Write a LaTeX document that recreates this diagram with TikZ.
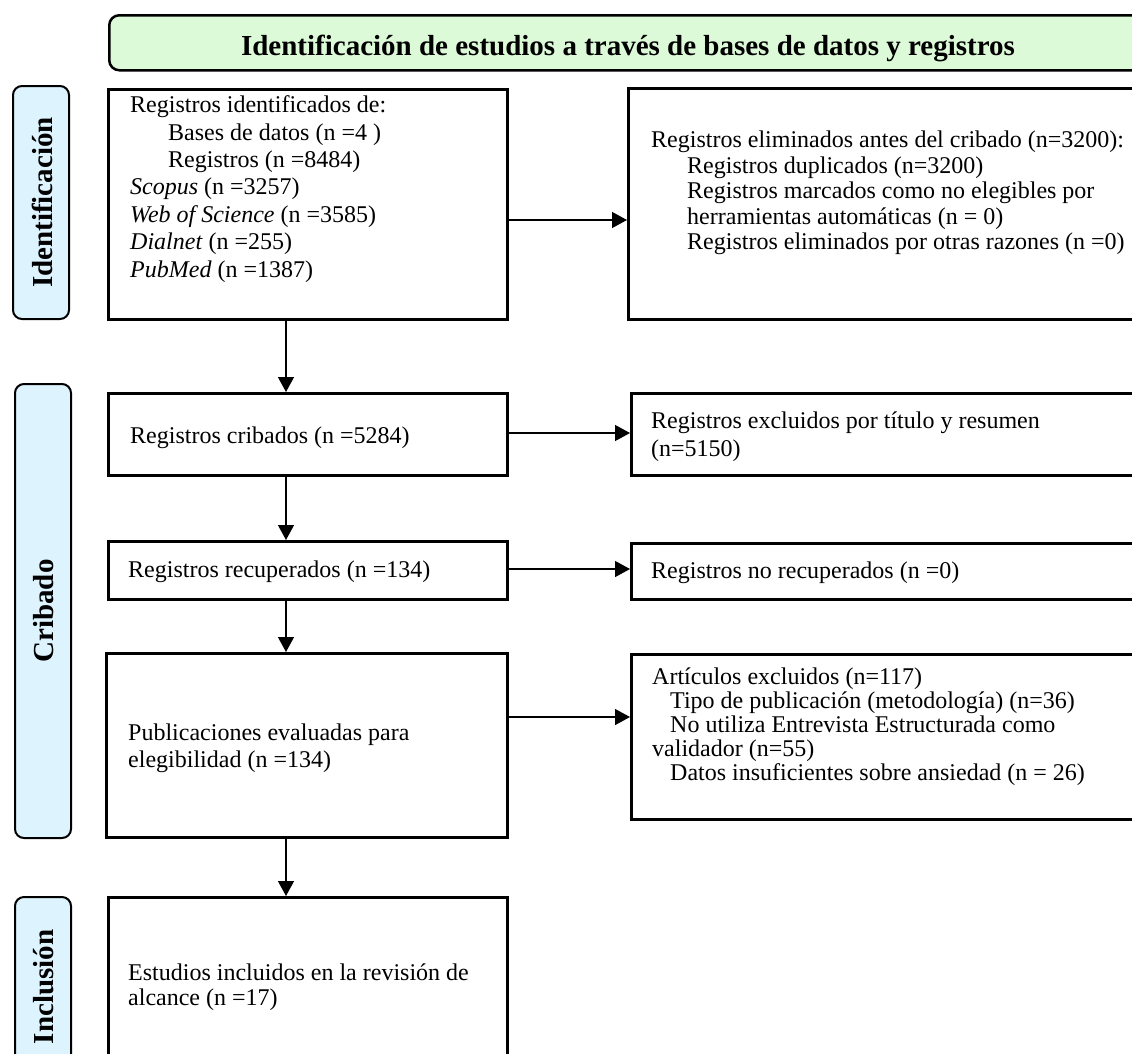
\documentclass[tikz,border=0pt]{standalone}
\usepackage{fontspec}
\setmainfont{Liberation Serif}
\usetikzlibrary{arrows.meta}
\definecolor{hdr}{RGB}{221,250,216}
\definecolor{side}{RGB}{221,244,255}
\tikzset{
  box/.style={draw, line width=2.6pt, anchor=north west, inner sep=0pt},
  txt/.style={anchor=west, align=left, inner sep=0pt},
  arr/.style={line width=1.3pt, -{Triangle[length=15pt,width=16pt]}},
  phase/.style={draw, line width=2pt, rounded corners=9pt, fill=side, anchor=north west, inner sep=0pt},
  phasetxt/.style={rotate=90, inner sep=0pt, font=\bfseries\fontsize{29}{32}\selectfont},
}
\newcommand{\fs}[1]{\fontsize{24}{#1}\selectfont}
\begin{document}
\begin{tikzpicture}[x=1pt,y=-1pt]
\useasboundingbox (0,0) rectangle (1132,1053);
\clip (0,0) rectangle (1132,1053);

% header
\node[draw, line width=2.5pt, rounded corners=10pt, fill=hdr, anchor=north west, inner sep=0pt,
      minimum width=1060pt, minimum height=55pt] (hdr) at (108,14) {};
\node[anchor=base, inner sep=0pt, font=\bfseries\fontsize{29}{32}\selectfont] (title) at (628,55)
  {Identificación de estudios a través de bases de datos y registros};

% phase labels
\node[phase, minimum width=56pt, minimum height=233pt] (idlab) at (12,85) {};
\node[phasetxt] (idlabt) at ([xshift=1pt]idlab.center) {Identificación};
\node[phase, minimum width=56pt, minimum height=454pt] (crlab) at (14,383) {};
\node[phasetxt] (crlabt) at ([xshift=1pt]crlab.center) {Cribado};
\node[phase, minimum width=56pt, minimum height=180pt] (inlab) at (14,896) {};
\node[phasetxt] (inlabt) at ([xshift=1pt]inlab.center) {Inclusión};

% boxes
\node[box, minimum width=399pt, minimum height=230pt] (b1) at (107,88) {};
\node[box, minimum width=540pt, minimum height=231pt] (b2) at (627,87) {};
\node[box, minimum width=399pt, minimum height=82pt] (b3) at (107,392) {};
\node[box, minimum width=540pt, minimum height=82pt] (b4) at (630,392) {};
\node[box, minimum width=399pt, minimum height=58pt] (b5) at (107,540) {};
\node[box, minimum width=540pt, minimum height=56pt] (b6) at (630,542) {};
\node[box, minimum width=401pt, minimum height=184pt] (b7) at (105,652) {};
\node[box, minimum width=540pt, minimum height=165pt] (b8) at (630,653) {};
\node[box, minimum width=399pt, minimum height=200pt] (b9) at (107,896) {};

% texts
\node[txt, font=\fs{27.4}] (t1) at (130,189) {Registros identificados de:\\
\hspace*{38pt}Bases de datos (n =4 )\\
\hspace*{38pt}Registros (n =8484)\\
\textit{Scopus} (n =3257)\\
\textit{Web of Science} (n =3585)\\
\textit{Dialnet} (n =255)\\
\textit{PubMed} (n =1387)};
\node[txt, font=\fs{25.5}] (t2) at (651,193) {Registros eliminados antes del cribado (n=3200):\\
\hspace*{36pt}Registros duplicados (n=3200)\\
\hspace*{36pt}Registros marcados como no elegibles por\\
\hspace*{36pt}herramientas automáticas (n = 0)\\
\hspace*{36pt}Registros eliminados por otras razones (n =0)};
\node[txt, font=\fs{28}] (t3) at (130,438) {Registros cribados (n =5284)};
\node[txt, font=\fs{28}] (t4) at (651,437) {Registros excluidos por título y resumen\\(n=5150)};
\node[txt, font=\fs{28}] (t5) at (128,572) {Registros recuperados (n =134)};
\node[txt, font=\fs{28}] (t6) at (651,573) {Registros no recuperados (n =0)};
\node[txt, font=\fs{27}] (t7) at (128,748.5) {Publicaciones evaluadas para\\elegibilidad (n =134)};
\node[txt, font=\fs{24}] (t8) at (652,727) {Artículos excluidos (n=117)\\
\hspace*{18pt}Tipo de publicación (metodología) (n=36)\\
\hspace*{18pt}No utiliza Entrevista Estructurada como\\
validador (n=55)\\
\hspace*{18pt}Datos insuficientes sobre ansiedad (n = 26)};
\node[txt, font=\fs{25}] (t9) at (128,987.5) {Estudios incluidos en la revisión de\\alcance (n =17)};

% connectors
\draw[arr] (b1.east |- 0,220) -- (b2.west |- 0,220);
\draw[arr] (b3.east |- 0,433) -- (b4.west |- 0,433);
\draw[arr] (b5.east |- 0,569) -- (b6.west |- 0,569);
\draw[arr] (b7.east |- 0,717) -- (b8.west |- 0,717);
\draw[arr] (b1.south -| 286,0) -- (b3.north -| 286,0);
\draw[arr] (b3.south -| 286,0) -- (b5.north -| 286,0);
\draw[arr] (b5.south -| 286,0) -- (b7.north -| 286,0);
\draw[arr] (b7.south -| 286,0) -- (b9.north -| 286,0);
\end{tikzpicture}
\end{document}
